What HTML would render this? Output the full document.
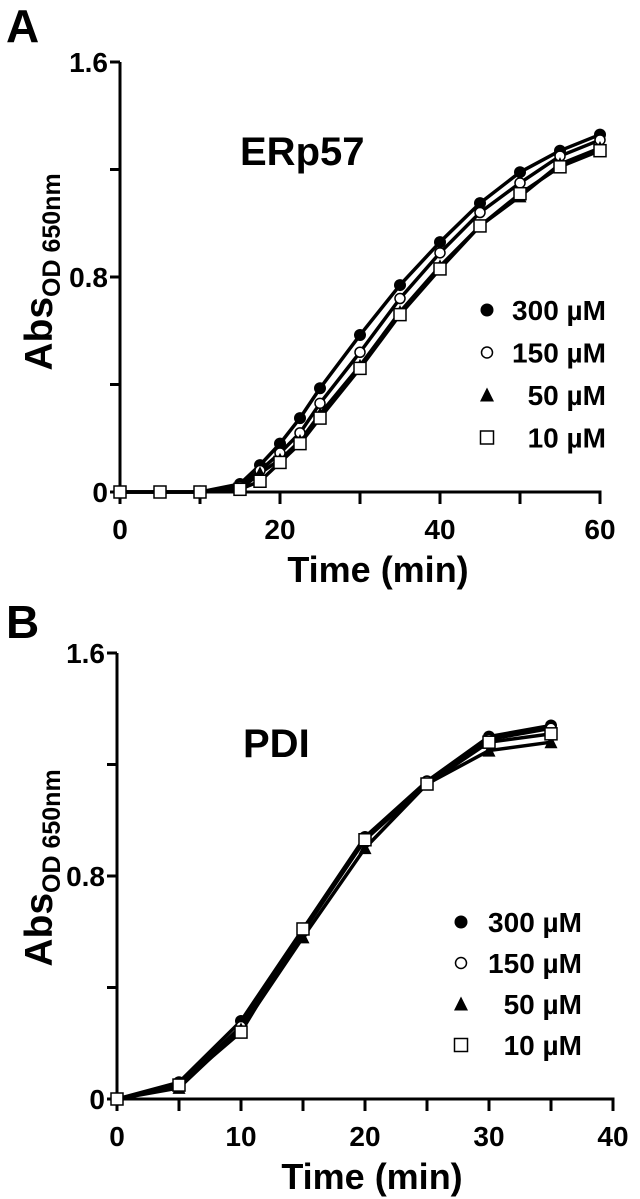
<!DOCTYPE html>
<html><head><meta charset="utf-8"><style>
html,body{margin:0;padding:0;background:#fff;}
svg{display:block;font-family:"Liberation Sans",Arial,sans-serif;font-weight:bold;}
</style></head><body>
<svg id="fig" width="640" height="1199" viewBox="0 0 640 1199" xmlns="http://www.w3.org/2000/svg"></svg>
<script>
const timesA = [0,5,10,15,17.5,20,22.5,25,30,35,40,45,50,55,60];
const a300 = [0,0,0,0.03,0.1,0.18,0.275,0.386,0.584,0.77,0.93,1.075,1.19,1.27,1.33];
const a150 = [0,0,0,0.02,0.08,0.145,0.22,0.33,0.52,0.72,0.89,1.04,1.15,1.25,1.31];
const a50  = [0,0,0,0.01,0.07,0.12,0.19,0.29,0.47,0.67,0.84,0.99,1.10,1.22,1.28];
const a10  = [0,0,0,0.01,0.04,0.11,0.18,0.275,0.46,0.66,0.83,0.99,1.11,1.21,1.27];
const timesB = [0,5,10,15,20,25,30,35];
const b300 = [0,0.06,0.28,0.61,0.94,1.14,1.30,1.34];
const b150 = [0,0.05,0.26,0.60,0.93,1.14,1.29,1.33];
const b50  = [0,0.04,0.25,0.58,0.90,1.13,1.25,1.28];
const b10  = [0,0.05,0.24,0.61,0.93,1.13,1.28,1.31];
const yTicks = [0,0.4,0.8,1.2,1.6];
const yTickLabels = ["0","","0.8","","1.6"];
const xTicksA = [0,10,20,30,40,50,60];
const xTickLabelsA = ["0","","20","","40","","60"];
const xTicksB = [0,5,10,15,20,25,30,35,40];
const xTickLabelsB = ["0","","10","","20","","30","","40"];
const legendLabels = ["300 \u00b5M","150 \u00b5M","50 \u00b5M","10 \u00b5M"];

const NS="http://www.w3.org/2000/svg";
const svg=document.getElementById('fig');
function el(tag,attrs,parent){const e=document.createElementNS(NS,tag);for(const k in attrs)e.setAttribute(k,attrs[k]);(parent||svg).appendChild(e);return e;}

function marker(g,type,x,y,s){
  let m;
  if(type==='filled-circle') m=el('circle',{cx:x,cy:y,r:s/2,fill:'#000'},g);
  else if(type==='open-circle') m=el('circle',{cx:x,cy:y,r:s/2-1,fill:'#fff',stroke:'#000','stroke-width':1.5},g);
  else if(type==='triangle') m=el('polygon',{points:`${x},${y-s/2-1} ${x-s/2-0.5},${y+s/2} ${x+s/2+0.5},${y+s/2}`,fill:'#000'},g);
  else m=el('rect',{x:x-s/2,y:y-s/2,width:s,height:s,fill:'#fff',stroke:'#000','stroke-width':1.5},g);
  return m;
}

function panel(cfg){
  const g=el('g',{});
  
  
  const sx=v=>cfg.x0+(v-cfg.xmin)/(cfg.xmax-cfg.xmin)*(cfg.x1-cfg.x0);
  const sy=v=>cfg.y0-(v/1.6)*(cfg.y0-cfg.y1);
  const ya=el('line',{x1:cfg.x0,y1:cfg.y1,x2:cfg.x0,y2:cfg.y0+2,stroke:'#000','stroke-width':3},g);
  
  
  const xa=el('line',{x1:cfg.x0-2,y1:cfg.y0,x2:cfg.x1+1.5,y2:cfg.y0,stroke:'#000','stroke-width':3},g);
  
  
  yTicks.forEach((t,i)=>{
    const y=sy(t);
    el('line',{x1:cfg.x0-10,y1:y,x2:cfg.x0,y2:y,stroke:'#000','stroke-width':3},g);
    if(yTickLabels[i]){const tx=el('text',{x:cfg.x0-12,y:y+10,'text-anchor':'end','font-size':28},g);tx.textContent=yTickLabels[i];
      
      }
  });
  cfg.xt.forEach((t,i)=>{
    const x=sx(t);
    el('line',{x1:x,y1:cfg.y0,x2:x,y2:cfg.y0+12,stroke:'#000','stroke-width':3},g);
    if(cfg.xl[i]){const tx=el('text',{x:x,y:cfg.y0+47,'text-anchor':'middle','font-size':28},g);tx.textContent=cfg.xl[i];
      
      }
  });
  const xt=el('text',{x:cfg.titleX,y:cfg.y0+90,'text-anchor':'middle','font-size':36},g);
  xt.textContent='Time (min)';
  
  
  const yt=el('text',{x:0,y:0,transform:`translate(52,${cfg.ytitleY}) rotate(-90)`,'text-anchor':'middle','font-size':39},g);
  yt.innerHTML='Abs<tspan font-size="25" dy="8">OD 650nm</tspan>';
  
  
  const lt=el('text',{x:cfg.labelX,y:cfg.labelY,'font-size':46},g);
  lt.textContent=cfg.letter;
  
  
  const pt=el('text',{x:cfg.ptX,y:cfg.ptY,'font-size':40},g);
  pt.textContent=cfg.ptitle;
  
  
  const types=['filled-circle','open-circle','triangle','square'];
  const names=['series-300uM','series-150uM','series-50uM','series-10uM'];
  cfg.series.forEach((vals,si)=>{
    const pts=cfg.times.map((t,i)=>sx(t)+','+sy(vals[i])).join(' ');
    const pl=el('polyline',{points:pts,fill:'none',stroke:'#000','stroke-width':3.5,'stroke-linejoin':'round'},g);
    
    
  });
  cfg.series.forEach((vals,si)=>{
    cfg.times.forEach((t,i)=>{
      if(cfg.skip && cfg.skip(si,t)) return;
      const m=marker(g,types[si],sx(t),sy(vals[i]),12);
      
      
    });
  });
  legendLabels.forEach((lab,i)=>{
    const y=cfg.legY+i*cfg.legDy;
    const m=marker(g,types[i],cfg.legMX,y,13);
    
    
    const tx=el('text',{x:cfg.legTX,y:y+10,'text-anchor':'end','font-size':28},g);
    tx.textContent=lab;
    
    
  });
}

panel({name:'panel-a-erp57',x0:120,x1:600,xmin:0,xmax:60,y0:492,y1:62,xt:xTicksA,xl:xTickLabelsA,
  times:timesA,series:[a300,a150,a50,a10],skip:(si,t)=>t===5&&si!==3,
  titleX:378,ytitleY:272,letter:'A',labelX:6,labelY:42,ptitle:'ERp57',ptX:240,ptY:165,
  legY:310,legDy:42.5,legMX:487,legTX:606});
panel({name:'panel-b-pdi',x0:117,x1:613,xmin:0,xmax:40,y0:1099,y1:653,xt:xTicksB,xl:xTickLabelsB,
  times:timesB,series:[b300,b150,b50,b10],
  titleX:372,ytitleY:868,letter:'B',labelX:6,labelY:638,ptitle:'PDI',ptX:243,ptY:757,
  legY:922,legDy:41,legMX:461,legTX:582});
</script>
</body></html>
